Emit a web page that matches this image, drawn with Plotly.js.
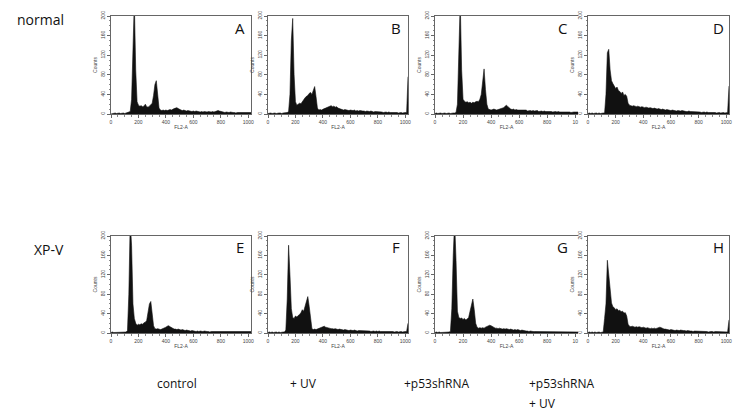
<!DOCTYPE html>
<html>
<head>
<meta charset="utf-8">
<script src="https://cdn.plot.ly/plotly-3.0.1.min.js"></script>
<style>
  html, body { margin: 0; padding: 0; background: #fff; }
  #chart { width: 750px; height: 419px; }
</style>
</head>
<body>
<div id="chart"></div>
<script>
// DNA content histograms (FL2-A), counts per 10-channel bin, channels 0..1020
var letters = ['A', 'B', 'C', 'D', 'E', 'F', 'G', 'H'];
var rowLabels = ['normal', 'XP-V'];
var colLabels = ['control', '+ UV', '+p53shRNA', '+p53shRNA', '+ UV'];
var xTickVals = [0, 200, 400, 600, 800, 1000];
var yTickVals = [0, 40, 80, 120, 160, 200];

var countsA = [
    0, 1, 2, 2, 1, 2, 2, 1, 2, 2,
    1, 2, 2, 3, 5, 30, 150, 230, 90, 25,
    18, 16, 17, 15, 16, 20, 15, 14, 16, 20,
    22, 38, 60, 68, 35, 12, 8, 7, 8, 7,
    8, 7, 8, 9, 8, 10, 11, 12, 13, 11,
    9, 8, 7, 8, 7, 6, 7, 6, 6, 5,
    6, 5, 6, 5, 5, 4, 5, 4, 5, 4,
    4, 5, 4, 4, 5, 4, 5, 6, 7, 6,
    5, 4, 4, 3, 4, 3, 3, 4, 3, 3,
    3, 2, 3, 3, 2, 3, 2, 3, 2, 2,
    2, 2, 3
];
var countsB = [
    1, 2, 2, 1, 2, 2, 1, 2, 2, 2,
    1, 2, 2, 2, 3, 5, 40, 150, 195, 80,
    25, 18, 20, 22, 21, 26, 30, 33, 36, 38,
    42, 44, 40, 50, 56, 35, 12, 8, 9, 8,
    10, 11, 12, 13, 14, 15, 17, 15, 16, 14,
    15, 12, 11, 10, 9, 8, 9, 8, 8, 7,
    8, 7, 7, 8, 6, 7, 6, 7, 6, 6,
    6, 5, 6, 5, 5, 6, 5, 4, 5, 5,
    4, 5, 4, 4, 3, 4, 4, 3, 4, 3,
    3, 3, 4, 3, 3, 2, 3, 3, 2, 3,
    3, 3, 76
];
var countsC = [
    1, 2, 1, 2, 2, 1, 2, 2, 1, 2,
    2, 1, 2, 2, 2, 3, 20, 120, 230, 90,
    30, 26, 24, 25, 23, 24, 22, 24, 23, 25,
    26, 25, 30, 40, 65, 92, 50, 20, 10, 9,
    8, 9, 10, 9, 8, 9, 10, 10, 11, 13,
    16, 18, 15, 12, 10, 9, 10, 8, 9, 8,
    8, 7, 8, 7, 7, 8, 6, 7, 7, 6,
    7, 6, 6, 7, 5, 6, 6, 5, 6, 5,
    5, 5, 6, 5, 4, 5, 5, 4, 5, 4,
    4, 5, 4, 4, 5, 4, 4, 3, 4, 4,
    4, 4, 4
];
var countsD = [
    1, 2, 1, 2, 1, 2, 2, 1, 2, 1,
    2, 2, 2, 40, 125, 132, 90, 68, 62, 58,
    52, 55, 48, 46, 42, 45, 38, 40, 36, 22,
    18, 17, 16, 17, 16, 15, 16, 15, 14, 15,
    14, 13, 14, 13, 12, 13, 12, 11, 12, 11,
    10, 11, 10, 9, 10, 9, 8, 9, 8, 8,
    7, 8, 7, 7, 6, 7, 6, 6, 7, 6,
    6, 5, 5, 6, 5, 5, 4, 5, 4, 5,
    4, 4, 3, 4, 4, 3, 4, 3, 3, 4,
    3, 3, 3, 2, 3, 3, 2, 3, 3, 2,
    3, 3, 57
];
var countsE = [
    1, 2, 1, 1, 2, 1, 2, 1, 2, 1,
    2, 2, 5, 80, 230, 180, 60, 30, 20, 16,
    18, 17, 19, 18, 21, 22, 26, 40, 60, 65,
    38, 15, 9, 8, 9, 8, 7, 8, 9, 10,
    12, 14, 15, 13, 11, 9, 8, 8, 7, 8,
    7, 6, 7, 6, 5, 6, 5, 5, 4, 5,
    4, 4, 3, 4, 3, 4, 3, 3, 4, 3,
    3, 3, 2, 3, 3, 2, 3, 2, 3, 2,
    2, 3, 2, 2, 3, 2, 2, 3, 2, 2,
    2, 2, 3, 2, 2, 2, 3, 2, 2, 2,
    2, 2, 3
];
var countsF = [
    1, 2, 1, 2, 1, 2, 2, 1, 2, 1,
    2, 2, 2, 6, 70, 181, 120, 50, 32, 30,
    35, 33, 36, 38, 42, 48, 45, 55, 68, 75,
    55, 25, 9, 7, 8, 7, 8, 9, 10, 11,
    13, 14, 12, 11, 10, 10, 9, 9, 8, 9,
    8, 7, 8, 7, 7, 6, 7, 6, 6, 5,
    6, 5, 5, 6, 5, 4, 5, 5, 4, 5,
    4, 4, 5, 4, 4, 3, 4, 4, 3, 4,
    3, 4, 3, 3, 4, 3, 3, 3, 4, 3,
    3, 3, 2, 3, 3, 2, 3, 3, 2, 3,
    3, 3, 20
];
var countsG = [
    1, 2, 1, 2, 1, 1, 2, 1, 2, 1,
    2, 3, 50, 160, 230, 150, 45, 32, 30, 31,
    28, 30, 27, 29, 32, 45, 62, 70, 48, 20,
    12, 10, 11, 10, 11, 10, 12, 13, 15, 16,
    15, 13, 11, 10, 10, 9, 10, 9, 8, 9,
    8, 9, 8, 7, 8, 7, 6, 7, 6, 7,
    6, 5, 6, 5, 4, 4, 4, 3, 4, 3,
    3, 3, 3, 2, 3, 3, 2, 3, 2, 3,
    2, 3, 2, 2, 3, 2, 2, 2, 3, 2,
    2, 2, 2, 3, 2, 2, 2, 2, 3, 2,
    2, 2, 2
];
var countsH = [
    1, 2, 1, 2, 1, 2, 1, 2, 2, 1,
    2, 2, 30, 60, 150, 125, 88, 62, 54, 52,
    48, 50, 46, 47, 44, 45, 41, 42, 35, 18,
    14, 13, 14, 13, 12, 13, 12, 13, 12, 11,
    12, 11, 10, 11, 10, 9, 10, 9, 10, 9,
    10, 11, 12, 11, 9, 8, 8, 7, 7, 6,
    7, 6, 6, 5, 6, 5, 5, 6, 5, 5,
    5, 4, 5, 4, 4, 4, 3, 4, 4, 3,
    4, 3, 3, 4, 3, 3, 3, 2, 3, 3,
    3, 2, 3, 3, 2, 3, 2, 2, 3, 2,
    2, 2, 27
];

var allCounts = [countsA, countsB, countsC, countsD, countsE, countsF, countsG, countsH];

// bin start channel for each value
var channels = [];
for (var i = 0; i < countsA.length; i++) {
    channels.push(i * 10);
}

// panel frames in pixels of the 750x419 page
var W = 750, H = 419;
var colPx = [[111, 251], [268, 408], [435, 578], [588, 729]];
var rowPx = [[16, 114], [236, 333]];
var letterX = [240, 396, 562, 718];
var letterY = [28, 247];

var data = [];
var layout = {
    width: W,
    height: H,
    margin: {l: 0, r: 0, t: 0, b: 0},
    paper_bgcolor: '#ffffff',
    plot_bgcolor: '#ffffff',
    showlegend: false,
    font: {family: 'Open Sans, sans-serif', color: '#222'},
    annotations: []
};

var smallFont = {family: 'Liberation Sans, Arial, sans-serif', size: 5, color: '#444'};

for (var p = 0; p < 8; p++) {
    var col = p % 4, row = Math.floor(p / 4);
    var n = p + 1;
    var xa = n === 1 ? 'x' : 'x' + n;
    var ya = n === 1 ? 'y' : 'y' + n;
    var xKey = n === 1 ? 'xaxis' : 'xaxis' + n;
    var yKey = n === 1 ? 'yaxis' : 'yaxis' + n;
    var cut = (col === 2);

    data.push({
        x: channels,
        y: allCounts[p],
        xaxis: xa,
        yaxis: ya,
        type: 'scatter',
        mode: 'lines',
        fill: 'tozeroy',
        fillcolor: '#111',
        line: {color: '#111', width: 0.6},
        hoverinfo: 'skip'
    });

    layout[xKey] = {
        domain: [colPx[col][0] / W, colPx[col][1] / W],
        anchor: ya,
        range: [0, 1020],
        tickvals: xTickVals,
        ticktext: cut ? ['0', '200', '400', '600', '800', '10'] : xTickVals.map(String),
        tickfont: smallFont,
        ticks: 'outside',
        ticklen: 3,
        tickcolor: '#666',
        minor: {dtick: 50, ticks: 'outside', ticklen: 1.5, tickcolor: '#888'},
        showline: true,
        linecolor: '#666',
        linewidth: 1,
        mirror: true,
        showgrid: false,
        zeroline: false,
        title: {text: 'FL2-A', font: smallFont, standoff: 1}
    };
    layout[yKey] = {
        domain: [1 - rowPx[row][1] / H, 1 - rowPx[row][0] / H],
        anchor: xa,
        range: [0, 200],
        tickvals: yTickVals,
        tickangle: -90,
        tickfont: smallFont,
        ticks: 'outside',
        ticklen: 3,
        tickcolor: '#666',
        minor: {dtick: 10, ticks: 'outside', ticklen: 1.5, tickcolor: '#888'},
        showline: true,
        linecolor: '#666',
        linewidth: 1,
        mirror: !cut,
        showgrid: false,
        zeroline: false,
        title: {text: 'Counts', font: smallFont, standoff: 2}
    };

    layout.annotations.push({
        xref: 'paper', yref: 'paper',
        x: letterX[col] / W, y: 1 - letterY[row] / H,
        xanchor: 'center', yanchor: 'middle',
        text: letters[p], showarrow: false,
        font: {family: 'Open Sans, sans-serif', size: 15, color: '#111'}
    });
}

var bigFont = {family: 'Open Sans, sans-serif', size: 14, color: '#111'};
var colFont = {family: 'Open Sans, sans-serif', size: 12, color: '#111'};

layout.annotations.push(
    {xref: 'paper', yref: 'paper', x: 40 / W, y: 1 - 20 / H, xanchor: 'center', yanchor: 'middle',
     text: rowLabels[0], showarrow: false, font: bigFont},
    {xref: 'paper', yref: 'paper', x: 49 / W, y: 1 - 250 / H, xanchor: 'center', yanchor: 'middle',
     text: rowLabels[1], showarrow: false, font: bigFont},
    {xref: 'paper', yref: 'paper', x: 177 / W, y: 1 - 383 / H, xanchor: 'center', yanchor: 'middle',
     text: colLabels[0], showarrow: false, font: colFont},
    {xref: 'paper', yref: 'paper', x: 303 / W, y: 1 - 383 / H, xanchor: 'center', yanchor: 'middle',
     text: colLabels[1], showarrow: false, font: colFont},
    {xref: 'paper', yref: 'paper', x: 436 / W, y: 1 - 383 / H, xanchor: 'center', yanchor: 'middle',
     text: colLabels[2], showarrow: false, font: colFont},
    {xref: 'paper', yref: 'paper', x: 527 / W, y: 1 - 383 / H, xanchor: 'left', yanchor: 'middle',
     text: colLabels[3], showarrow: false, font: colFont},
    {xref: 'paper', yref: 'paper', x: 527 / W, y: 1 - 403 / H, xanchor: 'left', yanchor: 'middle',
     text: colLabels[4], showarrow: false, font: colFont}
);

Plotly.newPlot('chart', data, layout, {staticPlot: true, displayModeBar: false});
</script>
</body>
</html>
